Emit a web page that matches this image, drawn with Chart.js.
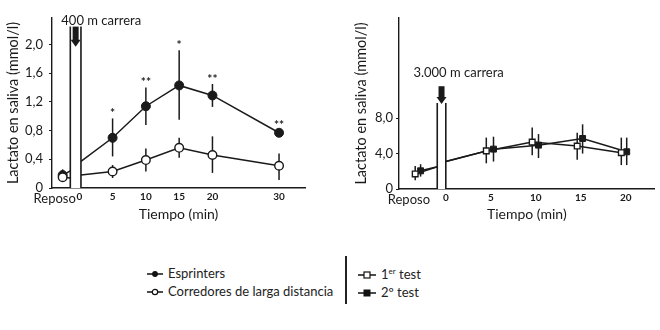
<!DOCTYPE html>
<html>
<head>
<meta charset="utf-8">
<script src="https://cdn.jsdelivr.net/npm/chart.js@4.4.1/dist/chart.umd.min.js"></script>
<style>
  body { margin: 0; background: #fff; }
  #wrap { position: relative; width: 660px; height: 330px; font-family: Lato, sans-serif; color: #222; }
  canvas { position: absolute; top: 0; }
  #left { left: 0; }
  #right { left: 340px; }
  .leg { position: absolute; font-size: 13px; line-height: 18px; white-space: nowrap; }
  .leg div { height: 18px; }
  .leg svg { margin-right: 5px; vertical-align: -1px; }
  #divider { position: absolute; left: 345px; top: 256px; width: 1.5px; height: 48px; background: #222; }
  .sup { font-size: 8px; position: relative; top: -5px; }
</style>
</head>
<body>
<div id="wrap">
  <canvas id="left" width="335" height="225"></canvas>
  <canvas id="right" width="320" height="225"></canvas>
  <div class="leg" style="left:147px;top:264px">
    <div><svg width="16" height="10"><line x1="0" y1="5" x2="16" y2="5" stroke="#111" stroke-width="1.5"/><circle cx="8" cy="5" r="2.9" fill="#111"/></svg>Esprinters</div>
    <div><svg width="16" height="10"><line x1="0" y1="5" x2="16" y2="5" stroke="#111" stroke-width="1.5"/><circle cx="8" cy="5" r="2.7" fill="#fff" stroke="#111" stroke-width="1.2"/></svg>Corredores de larga distancia</div>
  </div>
  <div id="divider"></div>
  <div class="leg" style="left:358px;top:265px">
    <div><svg width="18" height="10"><line x1="0" y1="5" x2="18" y2="5" stroke="#111" stroke-width="1.5"/><rect x="6" y="2" width="6" height="6" fill="#fff" stroke="#111" stroke-width="1.2"/></svg>1<span class="sup">er</span> test</div>
    <div><svg width="18" height="10"><line x1="0" y1="5" x2="18" y2="5" stroke="#111" stroke-width="1.5"/><rect x="5.5" y="1.5" width="7" height="7" fill="#111"/></svg>2º test</div>
  </div>
</div>
<script>
// ---- left panel: 400 m ----
const leftTickValues = [-3.7, 0, 5, 10, 15, 20, 30];
const leftTickLabels = ["Reposo", "0", "5", "10", "15", "20", "30"];
const leftYTicks = [0, 0.4, 0.8, 1.2, 1.6, 2.0];
const leftTimes = [5, 10, 15, 20, 30];

const sprinters = [0.70, 1.14, 1.43, 1.29, 0.77];
const sprintersLow = [0.44, 0.88, 0.95, 1.13, 0.74];
const sprintersHigh = [0.97, 1.40, 1.92, 1.45, 0.81];
const sprintersStars = ["*", "**", "*", "**", "**"];
const sprintersRest = [0.18, 0.10, 0.26]; // value, low, high
const sprintersEdges = [0.24, 0.37];      // line value at bar left / right

const distance = [0.23, 0.39, 0.56, 0.46, 0.31];
const distanceLow = [0.14, 0.23, 0.42, 0.21, 0.11];
const distanceHigh = [0.32, 0.55, 0.70, 0.72, 0.48];
const distanceRest = [0.15, 0.10, 0.20];
const distanceEdges = [0.14, 0.18];

const leftRestX = -2.5;
const leftRun = { x0: -1.35, x1: 0.25, top: 2.25, arrowTop: 2.25, arrowBottom: 1.97, label: "400 m carrera", labelX: -2.7, labelY: 2.33 };

// ---- right panel: 3.000 m ----
const rightTickValues = [-4.1, 0, 5, 10, 15, 20];
const rightTickLabels = ["Reposo", "0", "5", "10", "15", "20"];
const rightYTicks = [0, 4, 8];

const test1X = [-3.4, 4.5, 9.6, 14.6, 19.5];
const test1 = [1.7, 4.3, 5.3, 4.85, 4.1];
const test1Low = [1.0, 2.9, 3.8, 3.3, 2.7];
const test1High = [2.6, 5.8, 6.95, 6.35, 5.8];

const test2X = [-2.8, 5.3, 10.3, 15.2, 20.1];
const test2 = [2.05, 4.5, 4.95, 5.7, 4.2];
const test2Low = [1.4, 3.1, 3.5, 4.0, 2.7];
const test2High = [2.8, 5.9, 6.2, 7.3, 5.8];

const rightEdges = [2.5, 3.1];
const rightRun = { x0: -0.95, x1: 0.0, top: 9.7, arrowTop: 11.6, arrowBottom: 9.6, label: "3.000 m carrera", labelX: -3.6, labelY: 13.1 };

const ink = "#1a1a1a";
const fontFam = "Lato, sans-serif";

// builds one line: rest point, edge before bar, gap, edge after bar, measurements
function buildSeries(restX, rest, edges, run, xs, ys) {
  const data = [
    { x: restX, y: rest },
    { x: run.x0, y: edges[0] },
    { x: (run.x0 + run.x1) / 2, y: null },
    { x: run.x1, y: edges[1] },
  ];
  const radius = [1, 0, 0, 0];
  xs.forEach((x, i) => {
    data.push({ x: x, y: ys[i] });
    radius.push(1);
  });
  return { data, radius };
}

const errorBars = {
  id: "errorBars",
  beforeDatasetsDraw(chart) {
    const { ctx, scales } = chart;
    ctx.save();
    ctx.strokeStyle = ink;
    ctx.lineWidth = 1.5;
    chart.data.datasets.forEach((ds) => {
      (ds.errs || []).forEach((e) => {
        const px = scales.x.getPixelForValue(e.x);
        ctx.beginPath();
        ctx.moveTo(px, scales.y.getPixelForValue(e.lo));
        ctx.lineTo(px, scales.y.getPixelForValue(e.hi));
        ctx.stroke();
      });
    });
    ctx.restore();
  },
  afterDatasetsDraw(chart) {
    const { ctx, scales } = chart;
    ctx.save();
    ctx.fillStyle = ink;
    ctx.font = "bold 12px " + fontFam;
    ctx.textAlign = "center";
    ctx.textBaseline = "bottom";
    chart.data.datasets.forEach((ds) => {
      (ds.stars || []).forEach((s) => {
        ctx.fillText(s.t, scales.x.getPixelForValue(s.x), scales.y.getPixelForValue(s.y) + 1);
      });
    });
    ctx.restore();
  },
};

const runMarker = {
  id: "runMarker",
  afterDatasetsDraw(chart, args, opts) {
    const run = opts.run;
    if (!run) return;
    const { ctx, scales } = chart;
    const x0 = scales.x.getPixelForValue(run.x0);
    const x1 = scales.x.getPixelForValue(run.x1);
    const y0 = scales.y.getPixelForValue(0);
    const yt = scales.y.getPixelForValue(run.top);
    ctx.save();
    ctx.fillStyle = "#fff";
    ctx.fillRect(x0, yt, x1 - x0, y0 - yt);
    ctx.strokeStyle = ink;
    ctx.lineWidth = 1.6;
    ctx.beginPath();
    ctx.moveTo(x0, y0);
    ctx.lineTo(x0, yt);
    ctx.moveTo(x1, y0);
    ctx.lineTo(x1, yt);
    ctx.stroke();
    // arrow
    const cx = (x0 + x1) / 2;
    const ya = scales.y.getPixelForValue(run.arrowTop);
    const yb = scales.y.getPixelForValue(run.arrowBottom);
    ctx.fillStyle = ink;
    ctx.fillRect(cx - 3, ya, 6, yb - ya - 6);
    ctx.beginPath();
    ctx.moveTo(cx - 5, yb - 7);
    ctx.lineTo(cx + 5, yb - 7);
    ctx.lineTo(cx, yb);
    ctx.closePath();
    ctx.fill();
    ctx.font = "13px " + fontFam;
    ctx.textAlign = "left";
    ctx.textBaseline = "middle";
    ctx.fillText(run.label, scales.x.getPixelForValue(run.labelX), scales.y.getPixelForValue(run.labelY));
    ctx.restore();
  },
};

function comma(v) {
  return v === 0 ? "0" : v.toFixed(1).replace(".", ",");
}

function makeChart(el, cfg) {
  return new Chart(el, {
    type: "line",
    data: { datasets: cfg.datasets },
    options: {
      responsive: false,
      animation: false,
      devicePixelRatio: 1,
      layout: { padding: cfg.padding },
      plugins: { legend: { display: false }, tooltip: { enabled: false }, runMarker: { run: cfg.run } },
      elements: { line: { borderWidth: 1.5, borderColor: ink, tension: 0 } },
      scales: {
        x: {
          type: "linear",
          min: cfg.xMin,
          max: cfg.xMax,
          afterFit: (s) => { s.height = cfg.xHeight; },
          afterBuildTicks: (s) => { s.ticks = cfg.xTicks.map((v) => ({ value: v })); },
          grid: { display: false, drawTicks: false },
          border: { display: true, color: ink, width: 1.4 },
          ticks: {
            color: ink,
            padding: 3,
            maxRotation: 0,
            autoSkip: false,
            callback: (v, i) => cfg.xLabels[i],
            font: (c) => (c.index === 0 ? { family: fontFam, size: 13 } : { family: fontFam, size: 10, weight: "bold" }),
          },
          title: { display: true, text: "Tiempo (min)", color: ink, font: { family: fontFam, size: 14 }, padding: { top: 2, bottom: 2 } },
        },
        y: {
          type: "linear",
          min: 0,
          max: cfg.yMax,
          afterFit: (s) => { s.width = cfg.yWidth; },
          afterBuildTicks: (s) => { s.ticks = cfg.yTicks.map((v) => ({ value: v })); },
          grid: { display: true, drawOnChartArea: false, tickLength: 3, color: ink },
          border: { display: true, color: ink, width: 1.4 },
          ticks: { color: ink, padding: cfg.yPad, font: { family: fontFam, size: 13 }, callback: (v) => comma(v) },
          title: { display: true, text: "Lactato en saliva (mmol/l)", color: ink, font: { family: fontFam, size: 14.5 }, padding: { top: cfg.yTitlePad, bottom: 0 } },
        },
      },
    },
    plugins: [errorBars, runMarker],
  });
}

// left chart
const sp = buildSeries(leftRestX, sprintersRest[0], sprintersEdges, leftRun, leftTimes, sprinters);
const di = buildSeries(leftRestX, distanceRest[0], distanceEdges, leftRun, leftTimes, distance);
const spErr = [{ x: leftRestX, lo: sprintersRest[1], hi: sprintersRest[2] }].concat(
  leftTimes.map((t, i) => ({ x: t, lo: sprintersLow[i], hi: sprintersHigh[i] })));
const diErr = [{ x: leftRestX, lo: distanceRest[1], hi: distanceRest[2] }].concat(
  leftTimes.map((t, i) => ({ x: t, lo: distanceLow[i], hi: distanceHigh[i] })));

makeChart(document.getElementById("left"), {
  padding: { left: 0, right: 30, top: 18, bottom: 0 },
  xMin: -4.1, xMax: 33.9, xHeight: 37,
  xTicks: leftTickValues, xLabels: leftTickLabels,
  yMax: 2.37, yTicks: leftYTicks, yWidth: 52, yPad: 6, yTitlePad: 5,
  run: leftRun,
  datasets: [
    {
      data: di.data, errs: diErr, spanGaps: false,
      pointRadius: di.radius.map((r) => r * 4.3), pointStyle: "circle",
      pointBackgroundColor: "#fff", pointBorderColor: ink, pointBorderWidth: 1.4,
    },
    {
      data: sp.data, errs: spErr, spanGaps: false,
      stars: leftTimes.map((t, i) => ({ x: t, y: sprintersHigh[i], t: sprintersStars[i] })),
      pointRadius: sp.radius.map((r) => r * 4.5), pointStyle: "circle",
      pointBackgroundColor: ink, pointBorderColor: ink, pointBorderWidth: 1,
    },
  ],
});

// right chart
const t1 = buildSeries(test1X[0], test1[0], rightEdges, rightRun, test1X.slice(1), test1.slice(1));
const t2 = buildSeries(test2X[0], test2[0], rightEdges, rightRun, test2X.slice(1), test2.slice(1));

makeChart(document.getElementById("right"), {
  padding: { left: 0, right: 5, top: 18, bottom: 0 },
  xMin: -5.2, xMax: 23.2, xHeight: 36,
  xTicks: rightTickValues, xLabels: rightTickLabels,
  yMax: 19.3, yTicks: rightYTicks, yWidth: 59, yPad: 3, yTitlePad: 13,
  run: rightRun,
  datasets: [
    {
      data: t1.data, spanGaps: false,
      errs: test1X.map((x, i) => ({ x: x, lo: test1Low[i], hi: test1High[i] })),
      pointRadius: t1.radius.map((r) => r * 4), pointStyle: "rect",
      pointBackgroundColor: "#fff", pointBorderColor: ink, pointBorderWidth: 1.4,
    },
    {
      data: t2.data, spanGaps: false,
      errs: test2X.map((x, i) => ({ x: x, lo: test2Low[i], hi: test2High[i] })),
      pointRadius: t2.radius.map((r) => r * 4.2), pointStyle: "rect",
      pointBackgroundColor: ink, pointBorderColor: ink, pointBorderWidth: 1,
    },
  ],
});
</script>
</body>
</html>
